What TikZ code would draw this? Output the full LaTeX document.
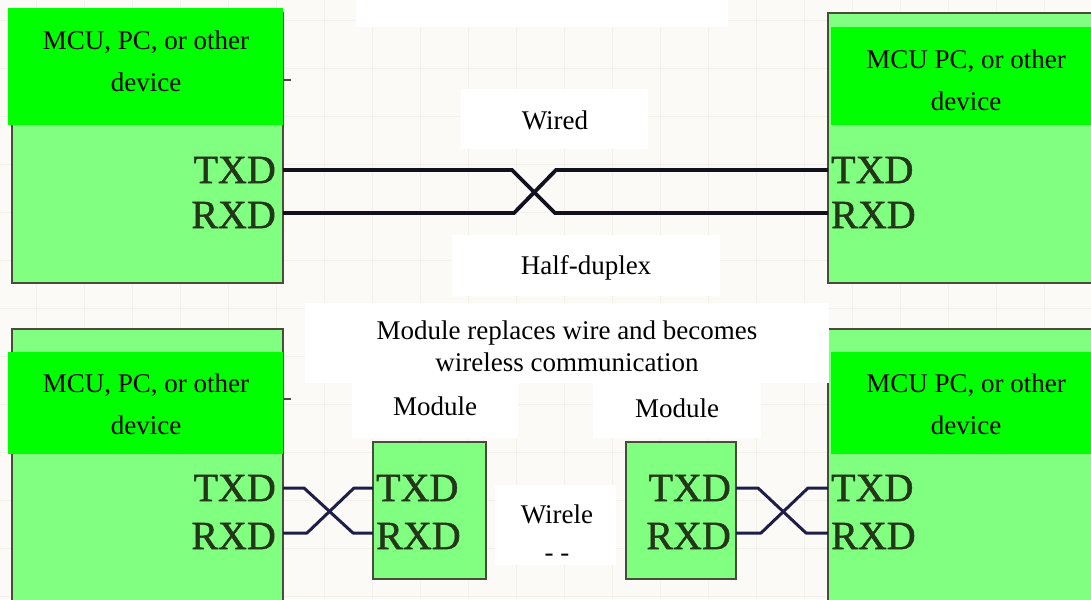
\documentclass[tikz,border=0pt]{standalone}
\usepackage{fontspec}
\setmainfont{Liberation Serif}
\newfontfamily\pinfont[FakeBold=1.2]{Liberation Serif}
\definecolor{bgc}{HTML}{FCFAF7}
\definecolor{gridc}{HTML}{F3F0EC}
\definecolor{boxfill}{HTML}{80FF80}
\definecolor{boxline}{HTML}{4B4B3B}
\definecolor{labfill}{HTML}{00FF00}
\definecolor{pinc}{HTML}{24361A}
\definecolor{wiretop}{HTML}{12121E}
\definecolor{wirebot}{HTML}{1E1E48}
\tikzset{
  devbox/.style={draw=boxline, fill=boxfill, line width=2pt, inner sep=0pt, outer sep=0pt, anchor=north west},
  labrect/.style={fill=labfill, draw=none, inner sep=0pt, outer sep=0pt, anchor=north west},
  whiterect/.style={fill=white, draw=none, inner sep=0pt, outer sep=0pt, anchor=north west},
  labtext/.style={align=center, inner sep=0pt, font=\fontsize{27}{42}\selectfont},
  pintext/.style={inner sep=0pt, text=pinc, font=\pinfont\fontsize{40}{46}\selectfont},
  wireA/.style={draw=wiretop, line width=3.8pt, line join=miter},
  wireB/.style={draw=wirebot, line width=3pt, line join=round},
  tick/.style={draw=boxline, line width=2pt},
  gridline/.style={draw=gridc, line width=0.8pt}
}
\begin{document}
\begin{tikzpicture}[x=1pt,y=-1pt]
\useasboundingbox (0,0) rectangle (1091,599);
\clip (0,0) rectangle (1091,599);
\fill[bgc] (0,0) rectangle (1091,599);
\foreach \gx in {36,84,...,1091} \draw[gridline] (\gx,0) -- (\gx,599);
\foreach \gy in {20,68,...,599} \draw[gridline] (0,\gy) -- (1091,\gy);

% ---------------- top: wired ----------------
\node[devbox, minimum width=271pt, minimum height=270pt] (devTL) at (12,13) {};
\node[devbox, minimum width=280pt, minimum height=270pt] (devTR) at (828,13) {};
\draw[tick] (devTL.north east) ++(0,67) coordinate (tkA) -- ++(8,0);

\node[labrect, minimum width=275pt, minimum height=117pt] (labTL) at (8,8) {};
\node[labtext] (txtTL) at (146,61) {MCU, PC, or other\\device};
\node[labrect, minimum width=262pt, minimum height=98pt] (labTR) at (831,27) {};
\node[labtext] (txtTR) at (966,80) {MCU PC, or other\\device};

\node[pintext, anchor=east] (tlTX) at (276,170) {TXD};
\node[pintext, anchor=east] (tlRX) at (276,215) {RXD};
\node[pintext, anchor=west] (trTX) at (831,170) {TXD};
\node[pintext, anchor=west] (trRX) at (831,215) {RXD};

\coordinate (pTLt) at (283,170);
\coordinate (pTLr) at (283,213);
\coordinate (pTRt) at (828,170);
\coordinate (pTRr) at (828,213);
\draw[wireA] (pTLt) -- (512,170) -- (555,213) -- (pTRr);
\draw[wireA] (pTLr) -- (514,213) -- (556,170) -- (pTRt);

\node[whiterect, minimum width=372pt, minimum height=27pt] (wTop) at (356,0) {};
\node[whiterect, minimum width=187pt, minimum height=60pt] (wWired) at (461,89) {};
\node[labtext] (tWired) at (555,120) {Wired};
\node[whiterect, minimum width=268pt, minimum height=61pt] (wHalf) at (452,235) {};
\node[labtext] (tHalf) at (586,268) {Half-duplex};

% ---------------- bottom: wireless ----------------
\node[devbox, minimum width=271pt, minimum height=290pt] (devBL) at (12,329) {};
\node[devbox, minimum width=280pt, minimum height=290pt] (devBR) at (828,329) {};
\draw[tick] (devBL.north east) ++(0,70) coordinate (tkB) -- ++(8,0);
\node[devbox, minimum width=113pt, minimum height=137pt] (mod1) at (373,442) {};
\node[devbox, minimum width=110pt, minimum height=137pt] (mod2) at (626,442) {};

\node[labrect, minimum width=275pt, minimum height=102pt] (labBL) at (8,352) {};
\node[labtext] (txtBL) at (146,404) {MCU, PC, or other\\device};
\node[labrect, minimum width=262pt, minimum height=102pt] (labBR) at (831,352) {};
\node[labtext] (txtBR) at (966,404) {MCU PC, or other\\device};

\node[pintext, anchor=east] (blTX) at (276,488) {TXD};
\node[pintext, anchor=east] (blRX) at (276,536) {RXD};
\node[pintext, anchor=west] (m1TX) at (376,488) {TXD};
\node[pintext, anchor=west] (m1RX) at (376,536) {RXD};
\node[pintext, anchor=east] (m2TX) at (731,488) {TXD};
\node[pintext, anchor=east] (m2RX) at (731,536) {RXD};
\node[pintext, anchor=west] (brTX) at (831,488) {TXD};
\node[pintext, anchor=west] (brRX) at (831,536) {RXD};

\coordinate (pBLt) at (283,488);
\coordinate (pBLr) at (283,533);
\coordinate (pM1t) at (373,488);
\coordinate (pM1r) at (373,533);
\coordinate (pM2t) at (736,488);
\coordinate (pM2r) at (736,533);
\coordinate (pBRt) at (828,488);
\coordinate (pBRr) at (828,533);
\draw[wireB] (pBLt) -- (304,488) -- (353,533) -- (pM1r);
\draw[wireB] (pBLr) -- (307,533) -- (354,488) -- (pM1t);
\draw[wireB] (pM2t) -- (758,488) -- (806,533) -- (pBRr);
\draw[wireB] (pM2r) -- (761,533) -- (808,488) -- (pBRt);

\node[whiterect, minimum width=524pt, minimum height=80pt] (wBig) at (305,303) {};
\node[labtext, font=\fontsize{27}{32}\selectfont] (tBig) at (567,346) {Module replaces wire and becomes\\wireless communication};
\node[whiterect, minimum width=166pt, minimum height=55pt] (wMod1) at (352,383) {};
\node[labtext] (tMod1) at (435,406) {Module};
\node[whiterect, minimum width=168pt, minimum height=55pt] (wMod2) at (593,383) {};
\node[labtext] (tMod2) at (677,408) {Module};
\node[whiterect, minimum width=121pt, minimum height=80pt] (wWl) at (495,485) {};
\node[labtext, font=\fontsize{27}{38}\selectfont] (tWl) at (557,533) {Wirele\\- -};
\end{tikzpicture}
\end{document}
